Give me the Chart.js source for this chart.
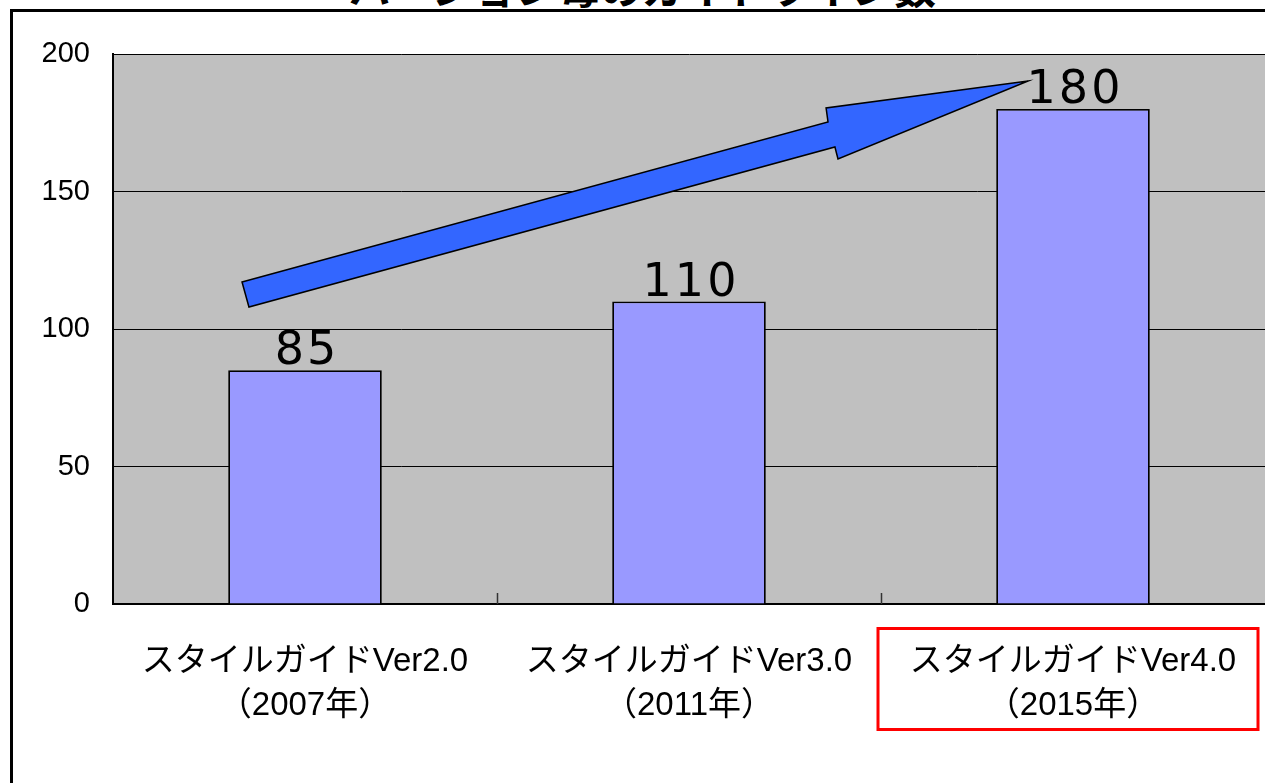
<!DOCTYPE html>
<html><head><meta charset="utf-8">
<script src="https://cdn.jsdelivr.net/npm/chart.js@4/dist/chart.umd.min.js"></script>
<style>
html,body{margin:0;padding:0;background:#fff;overflow:hidden;width:1265px;height:783px;}
#frame{position:absolute;left:10px;top:9px;width:2000px;height:2000px;border:3px solid #000;box-sizing:border-box;}
#title{position:absolute;left:10px;width:1265px;text-align:center;top:-35px;font:bold 42px "Noto Sans CJK JP";line-height:42px;color:#000;white-space:nowrap;}
#c{position:absolute;left:0;top:0;}
</style></head>
<body>
<div id="frame"></div>
<div id="title">バージョン毎のガイドライン数</div>
<canvas id="c" width="1265" height="783"></canvas>
<script>
const categories = [["スタイルガイドVer2.0","（2007年）"],["スタイルガイドVer3.0","（2011年）"],["スタイルガイドVer4.0","（2015年）"]];
const values = [85, 110, 180];
const yTickValues = [0, 50, 100, 150, 200];
const highlightIndex = 2;
// arrow annotation in (category index, value) units
const arrowPts = [[-0.164,117.1],[1.362,175.3],[1.357,180.4],[1.883,190.2],[1.388,161.8],[1.380,166.2],[-0.146,108.0]];

const decor = {
  id:'decor',
  beforeDraw(chart){
    const {ctx, chartArea:a} = chart;
    ctx.save(); ctx.fillStyle='#c0c0c0';
    ctx.fillRect(a.left,a.top,a.right-a.left,a.bottom-a.top);
    ctx.restore();
  },
  afterDraw(chart){
    const {ctx, chartArea:a, scales:{x,y}} = chart;
    ctx.save();
    ctx.strokeStyle='#333'; ctx.lineWidth=1.5;
    const w = x.getPixelForValue(1)-x.getPixelForValue(0);
    for(let i=0;i<categories.length-1;i++){
      const px = Math.round(x.getPixelForValue(i)+w/2)+0.5;
      ctx.beginPath(); ctx.moveTo(px,a.bottom); ctx.lineTo(px,a.bottom-11); ctx.stroke();
    }
    const meta = chart.getDatasetMeta(0);
    ctx.fillStyle='#000'; ctx.font='46px "DejaVu Sans"'; ctx.textAlign='center'; ctx.textBaseline='alphabetic';
    ctx.letterSpacing='3px';
    meta.data.forEach((b,i)=>{ ctx.fillText(String(values[i]), b.x+2, b.y-6); });
    ctx.letterSpacing='0px';
    ctx.beginPath();
    arrowPts.forEach((p,i)=>{ const px=x.getPixelForValue(p[0]), py=y.getPixelForValue(p[1]); i?ctx.lineTo(px,py):ctx.moveTo(px,py); });
    ctx.closePath();
    ctx.fillStyle='#3366ff'; ctx.fill();
    ctx.strokeStyle='#000'; ctx.lineWidth=1.5; ctx.lineJoin='miter'; ctx.stroke();
    const cx = x.getPixelForValue(highlightIndex);
    ctx.strokeStyle='#ff0000'; ctx.lineWidth=3;
    ctx.strokeRect(cx-195, a.bottom+24.5, 380, 101);
    ctx.restore();
  }
};

new Chart(document.getElementById('c'), {
  type:'bar',
  data:{ labels:categories, datasets:[{ data:values, backgroundColor:'#9999ff', borderColor:'#000', borderWidth:1.8, barPercentage:0.4, categoryPercentage:1 }]},
  options:{
    responsive:false, devicePixelRatio:1, animation:false,
    layout:{padding:{top:54,left:0,right:0,bottom:0}},
    plugins:{legend:{display:false},tooltip:{enabled:false},title:{display:false}},
    scales:{
      y:{ min:0, max:200, afterBuildTicks(s){ s.ticks = yTickValues.map(v=>({value:v})); },
          ticks:{ color:'#000', font:{family:'"Liberation Sans"', size:29}, padding:23 },
          grid:{ color:'#000', lineWidth:1, drawTicks:false },
          border:{ color:'#000', width:2 },
          afterFit(s){ s.width = 113; s.paddingTop = 0; s.paddingBottom = 0; } },
      x:{ grid:{ display:false, drawTicks:false },
          ticks:{ color:'#000', font:{family:'"Liberation Sans", "Noto Sans CJK JP"', size:33, lineHeight:1.36}, padding:35, maxRotation:0, autoSkip:false },
          border:{ color:'#000', width:2 },
          afterFit(s){ s.height = 179; s.paddingLeft = 0; s.paddingRight = 0; } }
    }
  },
  plugins:[decor]
});
</script>
</body></html>
